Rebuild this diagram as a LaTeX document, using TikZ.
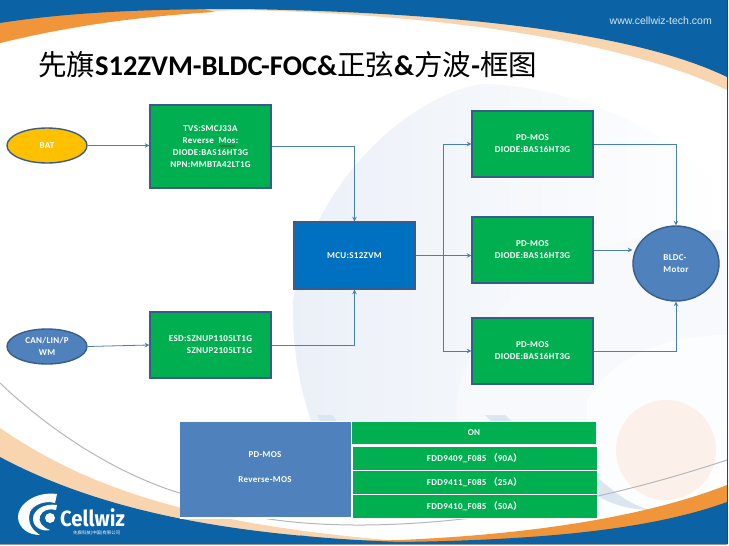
\documentclass[tikz,border=0pt]{standalone}
\usepackage{fontspec}
\setmainfont{Carlito}[LetterSpace=3.5]
\newfontfamily\cjk{Noto Sans CJK SC}
\newfontfamily\titlefont{Carlito}
\newfontfamily\webfont{Liberation Sans}
\newfontfamily\logofont{Fira Sans}
\usetikzlibrary{arrows.meta,decorations.pathmorphing,shapes.geometric}
\definecolor{slideblue}{HTML}{0B62A4}
\definecolor{orangeband}{HTML}{F0953A}
\definecolor{peach}{HTML}{F8D5AE}
\definecolor{greyline}{HTML}{B4B8BC}
\definecolor{paleblue}{HTML}{EBF0F8}
\definecolor{palewash}{HTML}{F7F9FC}
\definecolor{palepeach}{HTML}{FCF1EA}
\definecolor{swoosh}{HTML}{DCE6F0}
\definecolor{edgeblue}{HTML}{385D8A}
\definecolor{linkblue}{HTML}{4A7EBB}
\definecolor{boxgreen}{HTML}{00B050}
\definecolor{mcublue}{HTML}{0070C0}
\definecolor{fillblue}{HTML}{4F81BD}
\definecolor{batyellow}{HTML}{FFC000}
\tikzset{
  txt/.style={font=\bfseries\fontsize{9}{12}\selectfont,text=white,align=center,inner sep=0pt},
  blockbox/.style={draw=edgeblue,line width=1.4pt,fill=boxgreen,minimum width=121pt,inner sep=0pt,txt},
  mcubox/.style={blockbox,fill=mcublue},
  oval/.style={draw=edgeblue,line width=1.4pt,ellipse,inner sep=0pt,txt},
  cell/.style={fill=boxgreen,minimum width=244pt,inner sep=0pt,txt},
  conn/.style={draw=linkblue,line width=0.8pt,-{Stealth[length=4.5pt,width=4.5pt]}}
}
\begin{document}
\begin{tikzpicture}[x=1pt,y=-1pt]
\useasboundingbox (0,0) rectangle (729,546);
\fill[white] (0,0) rectangle (729,546);
\begin{scope}
\clip (0,0) rectangle (727,544);
% pale watermark
\shade[left color=paleblue,right color=white]
  (480,84) .. controls (400,100) and (310,190) .. (293,300)
  .. controls (291,370) and (310,440) .. (350,500) -- (727,500) -- (727,200)
  .. controls (680,130) and (570,85) .. (480,84) -- cycle;
\fill[palewash] (457,400) .. controls (470,310) and (560,230) .. (727,230) -- (727,470) -- (457,520) -- cycle;
\fill[white!60!palewash] (587,400) .. controls (610,360) and (660,335) .. (727,335) -- (727,470) -- (587,520) -- cycle;
\fill[palepeach] (666,450) circle (50);
\fill[swoosh] (590,470) .. controls (610,490) and (630,505) .. (650,510) .. controls (625,510) and (600,500) .. (590,490) -- cycle;
\fill[swoosh] (317,415) -- (332,415) -- (340,425) -- (322,425) -- cycle;
\fill[swoosh] (485,415) -- (505,415) -- (515,425) -- (495,425) -- cycle;
% top band
\fill[peach] (0,43) .. controls (90,22) and (170,12) .. (240,10)
  .. controls (440,14) and (620,40) .. (727,90) -- (727,0) -- (0,0) -- cycle;
\fill[orangeband] (0,43) .. controls (60,28) and (130,17) .. (215,12) -- (200,8) -- (0,15) -- cycle;
\fill[slideblue] (0,23) .. controls (70,12) and (150,9) .. (240,9)
  .. controls (440,12) and (630,30) .. (727,77) -- (727,0) -- (0,0) -- cycle;
% bottom band
\fill[peach] (0,428) .. controls (90,490) and (200,525) .. (400,541) -- (400,546) -- (0,546) -- cycle;
\fill[orangeband] (300,535) .. controls (340,541) and (370,541) .. (400,540)
  .. controls (540,534) and (650,515) .. (727,485) -- (727,546) -- (300,546) -- cycle;
\draw[greyline,line width=1pt] (0,383) .. controls (60,440) and (130,480) .. (190,496)
  .. controls (260,535) and (470,545) .. (727,460);
\fill[slideblue] (0,457) .. controls (90,505) and (210,535) .. (400,542)
  .. controls (540,540) and (650,530) .. (727,502) -- (727,546) -- (0,546) -- cycle;
\end{scope}
\draw[black!75,line width=1pt] (727,0) -- (727,544);
\draw[black!40,line width=1pt] (0,544.5) -- (727,544.5);
% logo
\fill[white] (57,494) .. controls (35,491) and (17,505) .. (18,518)
  .. controls (19,528) and (28,535) .. (40,535) .. controls (32,530) and (27,523) .. (30,512)
  .. controls (33,505) and (45,500) .. (55,503) -- cycle;
\fill[white] (57,505) .. controls (44,503) and (33,510) .. (33,519)
  .. controls (33,527) and (42,532) .. (50,530) .. controls (42,527) and (38,522) .. (40,516)
  .. controls (42,510) and (50,508) .. (56,510) -- cycle;
\fill[white] (50,518) circle (5);
\node[inner sep=0pt,anchor=base west,text=white,font=\logofont\bfseries\fontsize{22}{22}\selectfont,xscale=0.92] (logotext) at (60,526.5) {Cellwiz};
\node[inner sep=0pt,anchor=west,text=white,font=\cjk\fontsize{4.4}{4.4}\selectfont] (logosub) at (73,533) {先旗科技(中国)有限公司};
\node[inner sep=0pt,anchor=east,text=white!85!slideblue,font=\webfont\fontsize{10.5}{10.5}\selectfont] (web) at (712,21) {www.cellwiz-tech.com};
% title
\node[inner sep=0pt,anchor=west,text=black,font=\titlefont\bfseries\fontsize{28.5}{28.5}\selectfont] (title) at (38,65)
  {{\cjk\mdseries 先旗}S12ZVM-BLDC-FOC\&{\cjk\mdseries 正弦}\&{\cjk\mdseries 方波}-{\cjk\mdseries 框图}};
% blocks
\node[oval,fill=batyellow,minimum width=80pt,minimum height=35pt] (bat) at (47,145.5) {BAT};
\node[oval,fill=fillblue,minimum width=80pt,minimum height=35pt,align=center] (can) at (47,346.5) {CAN/LIN/P\\WM};
\node[blockbox,minimum height=83pt] (prot) at (210.5,146.5) {TVS:SMCJ33A\\Reverse\ \ Mos:\\DIODE:BAS16HT3G\\NPN:MMBTA42LT1G};
\node[blockbox,minimum height=66pt,align=right] (esd) at (210.5,345) {ESD:SZNUP1105LT1G\\SZNUP2105LT1G};
\node[mcubox,minimum height=67pt] (mcu) at (354.5,255.5) {MCU:S12ZVM};
\node[blockbox,minimum height=66pt] (pda) at (532.5,144) {PD-MOS\\DIODE:BAS16HT3G};
\node[blockbox,minimum height=66pt] (pdb) at (532.5,250) {PD-MOS\\DIODE:BAS16HT3G};
\node[blockbox,minimum height=66pt] (pdc) at (532.5,351) {PD-MOS\\DIODE:BAS16HT3G};
\node[oval,fill=fillblue,minimum width=86pt,minimum height=75pt,align=left] (motor) at (676,263.5) {BLDC-\\Motor};
\draw[red!80!black,line width=0.4pt,decorate,decoration={snake,amplitude=0.5pt,segment length=2pt}] (219.5,146) -- (235,146);
% connectors
\coordinate (branch) at (443,255.5);
\draw[conn] (bat.east) -- (bat.east -| prot.west);
\draw[conn] (can.east) -- (esd.west);
\draw[conn] (prot.east) -| (mcu.north);
\draw[conn] (esd.east) -| (mcu.south);
\draw[conn] (mcu.east) -- (mcu.east -| pdb.west);
\draw[conn] (branch) |- (pda.west);
\draw[conn] (branch) |- (pdc.west);
\draw[conn] (pda.east) -| (motor.north);
\draw[conn] (pdb.east) -- (pdb.east -| motor.west);
\draw[conn] (pdc.east) -| (motor.south);
% table
\node[fill=white,minimum width=417pt,minimum height=98pt,inner sep=0pt] (tablebg) at (388.5,470) {};
\node[fill=fillblue,minimum width=171pt,minimum height=95pt,inner sep=0pt] (left) at (265.5,469.5) {};
\node[txt] (pdmos) at (265,455) {PD-MOS};
\node[txt] (revmos) at (265,480) {Reverse-MOS};
\node[cell,minimum height=22pt] (on) at (474,433) {ON};
\node[cell,minimum height=23pt] (rowa) at (474.5,458.5) {FDD9409\_F085\ {\cjk （}90A{\cjk ）}};
\node[cell,minimum height=23pt] (rowb) at (474.5,482.5) {FDD9411\_F085\ {\cjk （}25A{\cjk ）}};
\node[cell,minimum height=23pt] (rowc) at (474.5,506.5) {FDD9410\_F085\ {\cjk （}50A{\cjk ）}};
\end{tikzpicture}
\end{document}
